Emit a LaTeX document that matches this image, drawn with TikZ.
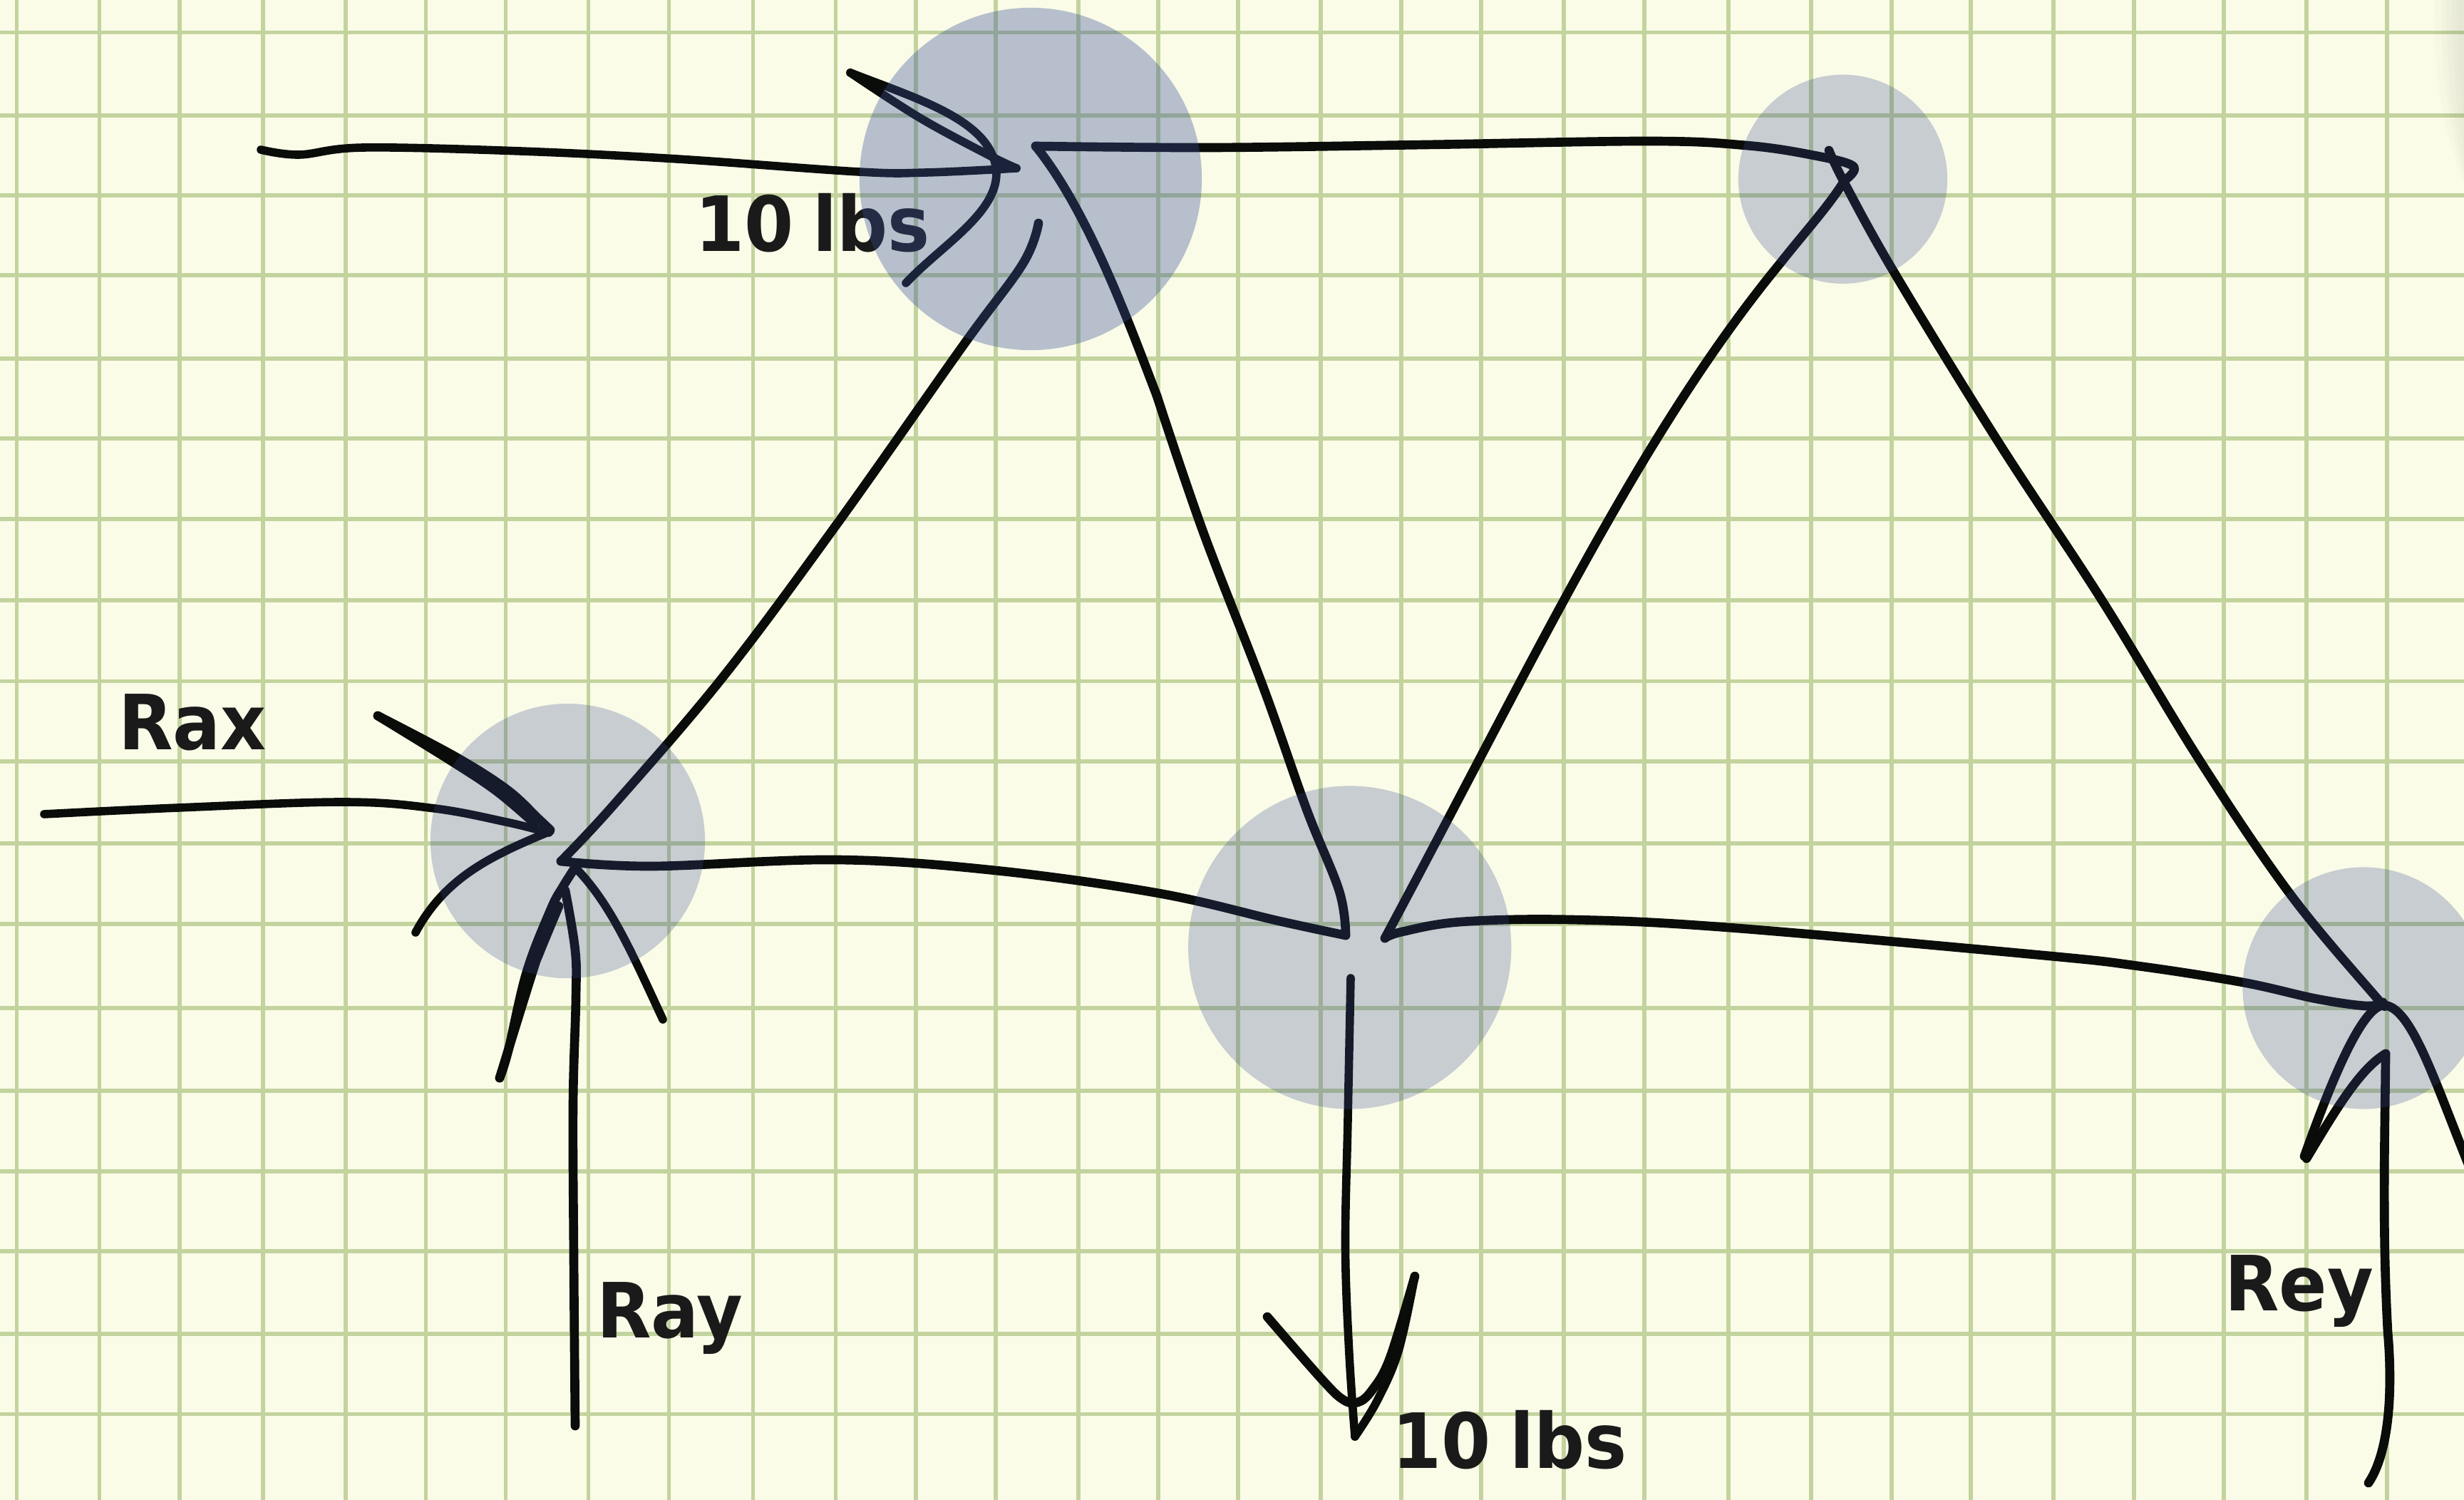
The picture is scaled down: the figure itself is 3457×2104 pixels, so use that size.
\documentclass[tikz,border=0pt]{standalone}
\usepackage{fontspec}
\newfontfamily\lab[FakeStretch=0.93,WordSpace=0.78]{DejaVu Sans}
\definecolor{paper}{HTML}{FAFCE8}
\definecolor{gridc}{HTML}{C3D39E}
\definecolor{inkc}{HTML}{0A0C0A}
\definecolor{textc}{HTML}{1A1A1A}
\definecolor{jointa}{RGB}{56,80,150}
\definecolor{jointb}{RGB}{55,72,140}
\tikzset{
  gridline/.style={gridc,line width=1.5pt},
  pen/.style={draw=inkc,line width=3.6pt,line cap=round,line join=round},
  penthin/.style={draw=inkc,line width=3.3pt,line cap=round,line join=round},
  sm/.style={smooth,tension=0.6},
  tag/.style={text=textc,anchor=base west,inner sep=0pt,outer sep=0pt,font=\lab\bfseries\fontsize{30.4pt}{36pt}\selectfont},
  jointbig/.style={circle,fill=jointa,fill opacity=0.35,draw=none,inner sep=0pt},
  jointsmall/.style={circle,fill=jointb,fill opacity=0.26,draw=none,inner sep=0pt},
  shadowband/.style={fill=black!60!paper,fill opacity=0.022,draw=none}
}
\begin{document}
\begin{tikzpicture}[x=0.01cm,y=-0.01cm]
\useasboundingbox (0,0) rectangle (3457,2104);
\clip (0,0) rectangle (3457,2104);
\fill[paper] (0,0) rectangle (3457,2104);
% grid
\foreach \gx in {23.5,139.5,252,369,485,597.7,709.7,825.7,938.3,1056.8,1172.7,1285,1397,1513,1625,1737,1853,1966,2078,2194,2307,2425,2541,2654,2765,2881,2994,3120,3236,3349}
  \draw[gridline] (\gx,0) -- (\gx,2104);
\foreach \gy in {45.5,162,274,386,503,615,728,842,955.5,1068,1183,1296,1414,1530,1643,1755,1871,1983.5}
  \draw[gridline] (0,\gy) -- (3457,\gy);
% page shadow top right
\foreach \sx/\ex in {3415/3470,3425/3470,3432/3470,3440/3470,3448/3470}
  \fill[shadowband] (\sx,-5) .. controls (\sx,120) and (\sx+10,180) .. (\ex,290) -- (\ex,-5) -- cycle;
% labels
\node[tag] (t1) at (975,353) {10 lbs};
\node[tag] (t2) at (1953,2059) {10 lbs};
\node[tag] (t3) at (166,1051) {Rax};
\node[tag] (t4) at (837,1876) {Ray};
\node[tag] (t5) at (3121,1838) {Rey};
% top-left load
\draw[penthin] plot[sm] coordinates {(366,210) (420,217) (510,207) (730,212) (950,223) (1205,241) (1300,242) (1426,236)};
\draw[penthin] plot[sm] coordinates {(1193,102) (1290,165) (1386,217) (1426,236)};
\draw[penthin] (1193,102) .. controls (1290,140) and (1395,170) .. (1398,243) .. controls (1398,300) and (1320,345) .. (1271,397);
% truss members
\draw[pen] plot[sm] coordinates {(1453,205) (1700,207) (2000,203) (2315,198) (2450,204) (2540,217) (2600,233) (2588,253)};
\draw[pen] (1453,205) .. controls (1530,300) and (1590,470) .. (1623,555);
\draw[pen] plot[sm] coordinates {(1623,555) (1688,746) (1772,963) (1833,1135) (1879,1250) (1888,1312)};
\draw[pen] plot[sm] coordinates {(1457,313) (1435,370) (1351,485) (1175,734) (1014,950) (861,1129) (787,1208)};
\draw[pen] plot[sm] coordinates {(787,1208) (915,1215) (1175,1206) (1397,1221) (1626,1253) (1795,1292) (1888,1312)};
\draw[pen] (1943,1316) .. controls (2150,930) and (2300,610) .. (2497,370) .. controls (2535,322) and (2565,290) .. (2588,253);
\draw[pen] plot[sm] coordinates {(1943,1316) (1967,1307) (2050,1293) (2205,1290) (2425,1301) (2866,1340) (3000,1355) (3147,1378) (3250,1401) (3320,1411) (3343,1406)};
\draw[pen] plot[sm] coordinates {(2566,211) (2588,257) (2658,383) (2803,619) (2949,842) (3087,1068) (3213,1254) (3333,1398) (3343,1406)};
% left supports
\draw[penthin] plot[sm] coordinates {(62,1142) (250,1133) (483,1125) (610,1134) (710,1153) (770,1168)};
\draw[pen] plot[sm] coordinates {(530,1004) (640,1062) (712,1108) (755,1148) (772,1164)};
\draw[pen] plot[sm] coordinates {(530,1004) (634,1068) (697,1110) (750,1155)};
\draw[penthin] (772,1166) .. controls (690,1200) and (625,1230) .. (583,1308);
\draw[penthin] (810,1220) .. controls (858,1270) and (888,1340) .. (930,1430);
\draw[pen] plot[sm] coordinates {(806,1218) (789,1245) (773,1275) (739,1363) (713,1474) (701,1512)};
\draw[pen] plot[sm] coordinates {(784,1271) (757,1336) (746,1367) (701,1512)};
\draw[pen] plot[sm] coordinates {(793,1249) (807,1333) (808,1400) (804,1550) (805,1764) (807,2000)};
% bottom centre load
\draw[penthin] plot[sm] coordinates {(1895,1372) (1891,1570) (1887.5,1750) (1893,1900) (1901,2015)};
\draw[pen] plot[sm] coordinates {(1985,1790) (1950,1905) (1925,1950) (1905,1967) (1884,1963) (1853,1933) (1778,1847)};
\draw[penthin] plot[sm] coordinates {(1901,2015) (1932,1965) (1962,1895) (1985,1790)};
% right support
\draw[pen] (3233,1622) .. controls (3280,1490) and (3318,1410) .. (3345,1410) .. controls (3385,1412) and (3420,1530) .. (3470,1650);
\draw[pen] (3236,1625) .. controls (3275,1560) and (3310,1500) .. (3347,1478);
\draw[pen] (3347,1478) .. controls (3346,1600) and (3342,1720) .. (3350,1868) .. controls (3358,1960) and (3350,2040) .. (3323,2080);
% joint highlights
\node[jointbig,minimum size=4.80cm] (j1) at (1446,251) {};
\node[jointsmall,minimum size=2.93cm] (j2) at (2585.5,251.3) {};
\node[jointsmall,minimum size=3.85cm] (j3) at (796.5,1179.6) {};
\node[jointsmall,minimum size=4.53cm] (j4) at (1893.7,1329) {};
\node[jointsmall,minimum size=3.39cm] (j5) at (3316,1386) {};
\end{tikzpicture}
\end{document}
